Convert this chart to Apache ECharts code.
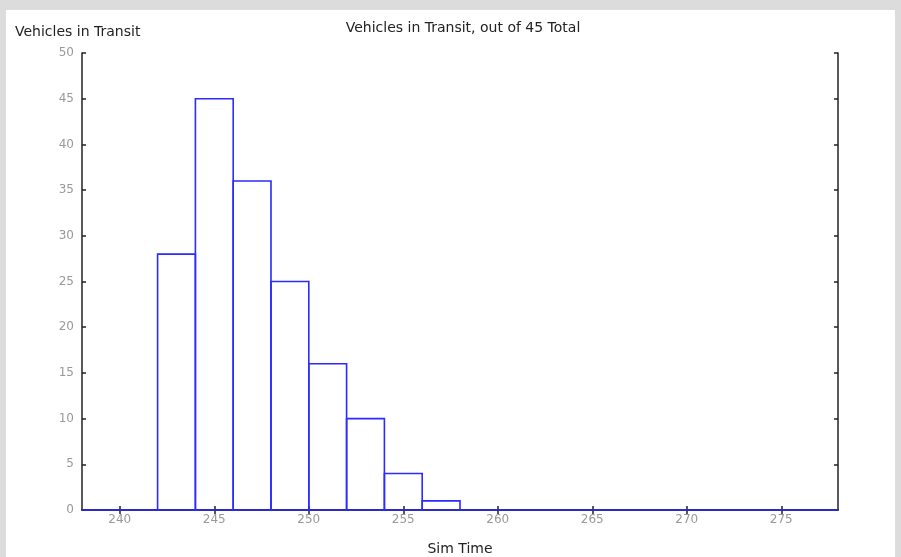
<!DOCTYPE html>
<html>
<head>
<meta charset="utf-8">
<script src="https://cdn.jsdelivr.net/npm/echarts@6/dist/echarts.min.js"></script>
<style>
  html, body { margin: 0; padding: 0; background: #dcdcdc; }
  #main { width: 901px; height: 557px; }
</style>
</head>
<body>
<div id="main"></div>
<script>
// histogram bins: left edge of each bin (width 2) and count
var binStart = [238, 240, 242, 244, 246, 248, 250, 252, 254, 256, 258, 260, 262, 264, 266, 268, 270, 272, 274, 276];
var binCount = [0, 0, 28, 45, 36, 25, 16, 10, 4, 1, 0, 0, 0, 0, 0, 0, 0, 0, 0, 0];
var binWidth = 2;
var xTicks = [240, 245, 250, 255, 260, 265, 270, 275];
var yTicks = [0, 5, 10, 15, 20, 25, 30, 35, 40, 45, 50];

var myChart = echarts.init(document.getElementById('main'));

var barData = binStart.map(function (s, i) { return [s, s + binWidth, binCount[i]]; });

var fontFam = 'DejaVu Sans';
var frame = { show: true, lineStyle: { color: '#222', width: 1.5 } };
var ticksIn = { show: true, inside: true, length: 4, lineStyle: { color: '#222', width: 1.5 } };

option = {
    backgroundColor: '#dcdcdc',
    animation: false,
    graphic: [{
        type: 'rect',
        z: -10,
        shape: { x: 6, y: 10, width: 889, height: 560 },
        style: { fill: '#ffffff' }
    }],
    title: {
        text: 'Vehicles in Transit, out of 45 Total',
        left: 458,
        top: 16,
        textAlign: 'center',
        textStyle: { fontFamily: fontFam, fontSize: 14, fontWeight: 'normal', color: '#222' }
    },
    grid: { left: 82, top: 53, right: 63, bottom: 47, outerBoundsMode: 'none' },
    xAxis: [
        {
            type: 'value',
            min: 238, max: 278,
            interval: 1,
            name: 'Sim Time',
            nameLocation: 'middle',
            nameGap: 32,
            nameTextStyle: { fontFamily: fontFam, fontSize: 14, color: '#222' },
            axisLine: frame,
            splitLine: { show: false },
            axisLabel: {
                fontFamily: fontFam, fontSize: 12, color: '#999', margin: 4,
                customValues: xTicks
            },
            axisTick: { show: true, inside: true, length: 4, customValues: xTicks, lineStyle: { color: '#222', width: 1.5 } }
        },
        {
            type: 'value',
            position: 'top',
            min: 238, max: 278,
            axisLine: frame,
            axisTick: { show: true, inside: true, length: 4, customValues: xTicks, lineStyle: { color: '#222', width: 1.5 } },
            axisLabel: { show: false },
            splitLine: { show: false }
        }
    ],
    yAxis: [
        {
            type: 'value',
            min: 0, max: 50,
            interval: 5,
            name: 'Vehicles in Transit',
            nameLocation: 'end',
            nameGap: 14,
            nameTextStyle: { fontFamily: fontFam, fontSize: 14, color: '#222', align: 'left', padding: [0, 0, 0, -67] },
            axisLine: frame,
            axisTick: ticksIn,
            splitLine: { show: false },
            axisLabel: { fontFamily: fontFam, fontSize: 12, color: '#999', margin: 8 }
        },
        {
            type: 'value',
            position: 'right',
            min: 0, max: 50,
            interval: 5,
            axisLine: frame,
            axisTick: ticksIn,
            axisLabel: { show: false },
            splitLine: { show: false }
        }
    ],
    series: [{
        type: 'custom',
        data: barData,
        clip: false,
        renderItem: function (params, api) {
            var p0 = api.coord([api.value(0), 0]);
            var p1 = api.coord([api.value(1), api.value(2)]);
            return {
                type: 'rect',
                shape: { x: p0[0], y: p1[1], width: p1[0] - p0[0], height: p0[1] - p1[1] },
                style: { fill: 'none', stroke: '#2b2bff', lineWidth: 1.6 }
            };
        }
    }]
};

myChart.setOption(option);
</script>
</body>
</html>
